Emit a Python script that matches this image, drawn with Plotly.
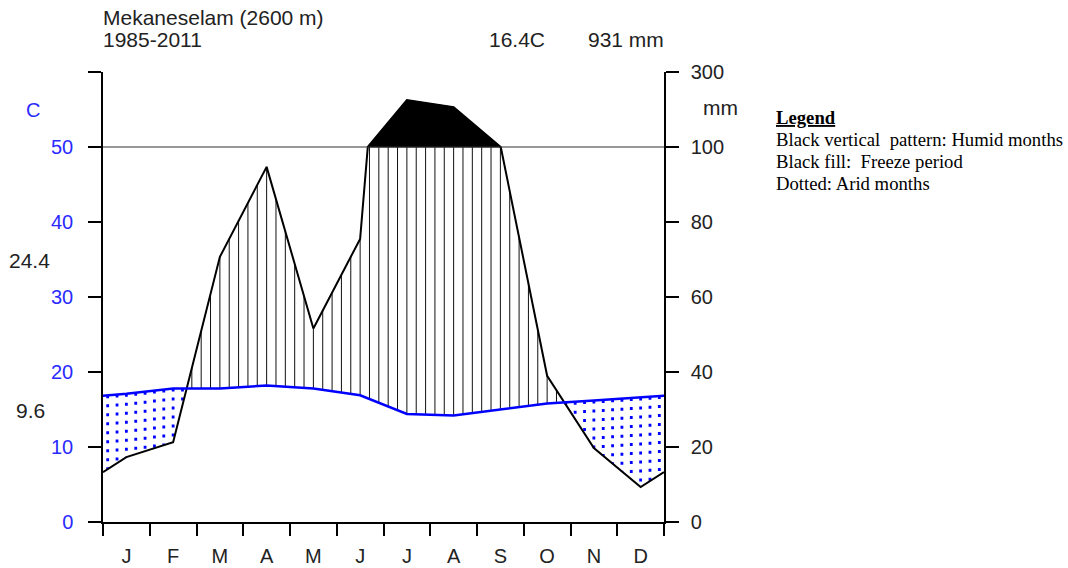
import numpy as np
import plotly.graph_objects as go

# ---- data ----
months = ["J", "F", "M", "A", "M", "J", "J", "A", "S", "O", "N", "D"]
temp_c = [17.1, 17.8, 17.8, 18.2, 17.8, 16.9, 14.4, 14.2, 15.0, 15.8, 16.2, 16.6]
precip_mm = [17.3, 21.3, 70.7, 94.7, 51.6, 75.5, 225.0, 206.0, 100.5, 39.0, 19.7, 9.3]
left_ticks = [0, 10, 20, 30, 40, 50]
right_ticks_mm = [0, 20, 40, 60, 80, 100, 300]
station = "Mekaneselam (2600 m)"
period = "1985-2011"
mean_label = "16.4C"
total_label = "931 mm"
abs_max = "24.4"
abs_min = "9.6"
legend_lines = ["Black vertical  pattern: Humid months", "Black fill:  Freeze period", "Dotted: Arid months"]


def p_scale(p):
    p = np.asarray(p, dtype=float)
    return np.where(p <= 100, p / 2.0, 50.0 + (p - 100.0) / 20.0)


n = len(months)
centers = np.arange(n) + 0.5

# wrap-around polylines
t_edge = (temp_c[0] + temp_c[-1]) / 2
p_edge = (precip_mm[0] + precip_mm[-1]) / 2
tx = np.concatenate([[0], centers, [n]])
ty = np.concatenate([[t_edge], temp_c, [t_edge]])
px_raw = np.concatenate([[0], centers, [n]])
py_raw = np.concatenate([[p_edge], precip_mm, [p_edge]])

# insert 100 mm crossings
pxs, pys = [px_raw[0]], [py_raw[0]]
for i in range(1, len(px_raw)):
    a, b = py_raw[i - 1], py_raw[i]
    if (a - 100) * (b - 100) < 0:
        f = (100 - a) / (b - a)
        pxs.append(px_raw[i - 1] + f * (px_raw[i] - px_raw[i - 1]))
        pys.append(100.0)
    pxs.append(px_raw[i])
    pys.append(py_raw[i])
pxs = np.array(pxs)
pys_s = p_scale(pys)

# hatch positions
xh = np.arange(5 * n) * 0.2 + 0.1
ph = np.interp(xh, pxs, pys_s)
th = np.interp(xh, tx, ty)

hum_x, hum_y, ari_x, ari_y = [], [], [], []
for x, p, t in zip(xh, ph, th):
    if p > t:
        hum_x += [x, x, None]
        hum_y += [t, min(p, 50.0), None]
    elif t > p:
        ari_x += [x, x, None]
        ari_y += [t, p, None]

# black fill above 100 mm
mask = pys_s >= 50
fx = list(pxs[mask]) + [pxs[mask][-1], pxs[mask][0]]
fy = list(pys_s[mask]) + [50, 50]

fig = go.Figure()
fig.add_trace(go.Scatter(x=fx, y=fy, fill="toself", fillcolor="black", mode="lines",
                         line=dict(color="black", width=1), hoverinfo="skip", showlegend=False))
fig.add_trace(go.Scatter(x=hum_x, y=hum_y, mode="lines", line=dict(color="#111111", width=1),
                         hoverinfo="skip", showlegend=False))
fig.add_trace(go.Scatter(x=ari_x, y=ari_y, mode="lines",
                         line=dict(color="blue", width=2.8, dash="3px,6px"),
                         hoverinfo="skip", showlegend=False))
fig.add_trace(go.Scatter(x=pxs, y=pys_s, mode="lines", line=dict(color="black", width=2),
                         hoverinfo="skip", showlegend=False))
fig.add_trace(go.Scatter(x=tx, y=ty, mode="lines", line=dict(color="blue", width=2.5),
                         hoverinfo="skip", showlegend=False))
# 100 mm reference line on overlay axes
fig.add_trace(go.Scatter(x=[0, n], y=[float(p_scale(100))] * 2, mode="lines",
                         line=dict(color="#333333", width=1.2), xaxis="x2", yaxis="y2",
                         hoverinfo="skip", showlegend=False))

ymax = float(p_scale(300))
axis_font = dict(family="Liberation Sans, Arial", size=20, color="#222222")

fig.update_layout(
    width=1068, height=568,
    margin=dict(l=103, r=404, t=72, b=46, autoexpand=False),
    plot_bgcolor="white", paper_bgcolor="white",
    showlegend=False,
    xaxis=dict(range=[0, n], tickvals=list(centers), ticktext=months, ticks="",
               showgrid=False, zeroline=False, showline=True, linecolor="black", linewidth=1.5,
               tickfont=axis_font, ticklabelstandoff=15, automargin=False),
    xaxis2=dict(range=[0, n], overlaying="x", anchor="y", side="bottom",
                tickvals=list(range(n + 1)), ticks="outside", ticklen=13, tickcolor="black",
                tickwidth=1.5, showticklabels=False, showgrid=False, zeroline=False,
                showline=False, automargin=False),
    yaxis=dict(range=[0, ymax], tickvals=left_ticks + [ymax],
               ticktext=[str(v) for v in left_ticks] + [""], ticks="outside", ticklen=13,
               tickcolor="black", tickwidth=1.5, showgrid=False, zeroline=False,
               showline=True, linecolor="black", linewidth=1.5,
               tickfont=dict(family="Liberation Sans, Arial", size=20, color="#2a2aff"),
               ticklabelstandoff=11, automargin=False),
    yaxis2=dict(range=[0, ymax], overlaying="y", side="right", anchor="x",
                tickvals=[float(v) for v in p_scale(right_ticks_mm)],
                ticktext=[str(v) for v in right_ticks_mm], ticks="outside", ticklen=13,
                tickcolor="black", tickwidth=1.5, showgrid=False, zeroline=False,
                showline=True, linecolor="black", linewidth=1.5,
                tickfont=axis_font, ticklabelstandoff=8, automargin=False),
)


def px2x(p):
    return (p - 103) / 561.0


def py2y(p):
    return (522 - p) / 450.0


txt = dict(family="Liberation Sans, Arial", size=21, color="#222222")
ann = [
    dict(text=station, x=px2x(101), y=py2y(18), xanchor="left", yanchor="middle", font=txt),
    dict(text=period, x=px2x(101), y=py2y(40), xanchor="left", yanchor="middle", font=txt),
    dict(text=mean_label, x=px2x(517), y=py2y(40), xanchor="center", yanchor="middle", font=txt),
    dict(text=total_label, x=px2x(666), y=py2y(40), xanchor="right", yanchor="middle", font=txt),
    dict(text="C", x=px2x(33), y=py2y(110), xanchor="center", yanchor="middle",
         font=dict(family="Liberation Sans, Arial", size=20, color="#2a2aff")),
    dict(text="mm", x=px2x(720), y=py2y(108), xanchor="center", yanchor="middle", font=txt),
    dict(text=abs_max, x=px2x(29), y=py2y(260), xanchor="center", yanchor="middle", font=txt),
    dict(text=abs_min, x=px2x(30), y=py2y(410), xanchor="center", yanchor="middle", font=txt),
]
serif = dict(family="Liberation Serif, Times New Roman", size=18.7, color="black")
ann.append(dict(text="<b><u>Legend</u></b>", x=px2x(774), y=py2y(117), xanchor="left",
                yanchor="middle", font=serif))
for i, line in enumerate(legend_lines):
    ann.append(dict(text=line, x=px2x(774), y=py2y(139 + 22 * i), xanchor="left",
                    yanchor="middle", font=serif))
for a in ann:
    a.update(xref="paper", yref="paper", showarrow=False)
fig.update_layout(annotations=ann)

fig.write_html("out.html", config={"displayModeBar": False},
               post_script="document.body.style.margin='0';")
